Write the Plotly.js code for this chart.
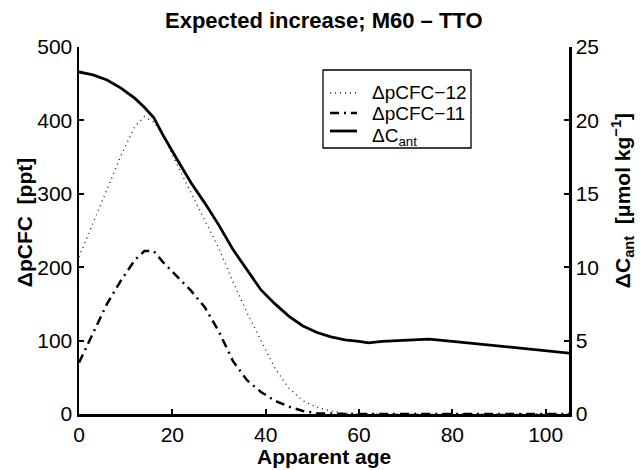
<!DOCTYPE html>
<html>
<head>
<meta charset="utf-8">
<script src="https://cdn.plot.ly/plotly-3.0.1.min.js"></script>
<style>html,body{margin:0;padding:0;background:#fff;}#chart{width:644px;height:470px;}</style>
</head>
<body>
<div id="chart"></div>
<script>
var age   = [0,3,6,9,12,14,16,18,21,24,27,30,33,36,39,42,45,48,51,54,57,60,62,65,70,75,80,85,90,95,100,105];
var cfc12 = [214,260,308,352,392,405,398,380,340,302,265,225,180,138,100,62,35,18,9,4,1,0,0,0,0,0,0,0,0,0,0,0];
var cfc11 = [70,110,150,182,210,222,222,207,188,168,145,112,72,46,30,18,10,4,1,0,0,0,0,0,0,0,0,0,0,0,0,0];
var cant  = [23.3,23.1,22.75,22.2,21.5,20.9,20.2,19.0,17.35,15.75,14.35,12.85,11.2,9.8,8.45,7.5,6.65,6.0,5.55,5.25,5.05,4.95,4.85,4.95,5.05,5.1,4.95,4.8,4.65,4.5,4.35,4.15];
var seriesNames = ["ΔpCFC−12", "ΔpCFC−11", "ΔC<sub>ant</sub>"];
var xTicks = [0,20,40,60,80,100];
var yTicks = [0,100,200,300,400,500];
var y2Ticks = [0,5,10,15,20,25];

var F = "Liberation Sans, Arial, Helvetica, sans-serif";
var styles = [
  {color: "#222", width: 1.4, dash: "1px,4px"},
  {color: "#000", width: 2.5, dash: "9px,5px,2px,5px"},
  {color: "#000", width: 2.8, dash: "solid"}
];
var traces = [
  {x: age, y: cfc12, name: seriesNames[0], mode: "lines", line: styles[0]},
  {x: age, y: cfc11, name: seriesNames[1], mode: "lines", line: styles[1]},
  {x: age, y: cant, name: seriesNames[2], mode: "lines", yaxis: "y2", line: styles[2]}
];
var axBase = {showgrid: false, zeroline: false, showline: true, linecolor: "#000", linewidth: 2.5,
  ticks: "inside", ticklen: 5, tickwidth: 2, tickcolor: "#000", tickfont: {family: F, size: 21, color: "#000"}};

// manual legend (paper coordinates of the plot area)
var L = 79, R = 569, T = 47, B = 414;
function px(v){ return (v - L) / (R - L); }
function py(v){ return (B - v) / (B - T); }
var rowY = [93, 113, 131];
var shapes = [{type: "rect", xref: "paper", yref: "paper", x0: px(323), x1: px(471), y0: py(148), y1: py(70),
  line: {color: "#000", width: 1.3}, fillcolor: "#fff", layer: "above"}];
var legAnn = [];
for (var i = 0; i < 3; i++) {
  shapes.push({type: "line", xref: "paper", yref: "paper", x0: px(330), x1: px(357), y0: py(rowY[i]), y1: py(rowY[i]),
    line: {color: styles[i].color, width: styles[i].width, dash: styles[i].dash}, layer: "above"});
  legAnn.push({text: seriesNames[i], xref: "paper", yref: "paper", x: px(370), y: py(rowY[i]), yshift: (i === 2 ? -6 : 0),
    xanchor: "left", yanchor: "middle", showarrow: false, font: {family: F, size: 19, color: "#000"}});
}

var layout = {
  width: 644, height: 470,
  margin: {l: 79, r: 75, t: 47, b: 56},
  paper_bgcolor: "#fff", plot_bgcolor: "#fff",
  showlegend: false,
  xaxis: Object.assign({}, axBase, {range: [0, 105], tickvals: xTicks, ticklabelstandoff: 0}),
  yaxis: Object.assign({}, axBase, {range: [0, 500], tickvals: yTicks}),
  yaxis2: Object.assign({}, axBase, {range: [0, 25], tickvals: y2Ticks, overlaying: "y", side: "right"}),
  shapes: shapes,
  annotations: [
    {text: "<b>Expected increase; M60 – TTO</b>", xref: "paper", yref: "paper", x: 0.5, y: 1, yshift: 27, showarrow: false,
      xanchor: "center", yanchor: "middle", font: {family: F, size: 22, color: "#000"}},
    {text: "<b>Apparent age</b>", xref: "paper", yref: "paper", x: 0.5, y: 0, yshift: -55, showarrow: false,
      xanchor: "center", yanchor: "bottom", borderpad: 0, font: {family: F, size: 21, color: "#000"}},
    {text: "<b>ΔpCFC  [ppt]</b>", xref: "paper", yref: "paper", x: 0, xshift: -55, y: 0.52, textangle: -90, showarrow: false,
      xanchor: "center", yanchor: "middle", font: {family: F, size: 21, color: "#000"}},
    {text: "<b>ΔC<sub>ant</sub>  [μmol kg<sup>−1</sup>]</b>", xref: "paper", yref: "paper", x: 1, xshift: 53, y: 0.58, textangle: -90, showarrow: false,
      xanchor: "center", yanchor: "middle", font: {family: F, size: 21, color: "#000"}}
  ].concat(legAnn)
};
Plotly.newPlot("chart", traces, layout, {staticPlot: true, displayModeBar: false});
</script>
</body>
</html>
